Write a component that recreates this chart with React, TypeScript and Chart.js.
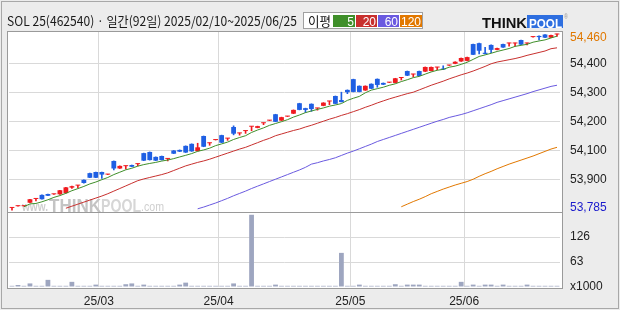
import React, { useEffect, useRef } from "react";
import { Chart, registerables } from "chart.js";
Chart.register(...registerables);

const TITLE = "SOL 25(462540) · 일간(92일) 2025/02/10~2025/06/25";
const LEGEND_TITLE = "이평";
const MA_PERIODS = ["5", "20", "60", "120"];
const MA_COLORS = ["#3f8f2a", "#c8302e", "#6a5ae0", "#e27800"];

const DATES = [
  "25/02/10","25/02/11","25/02/12","25/02/13","25/02/14","25/02/17","25/02/18","25/02/19","25/02/20","25/02/21",
  "25/02/24","25/02/25","25/02/26","25/02/27","25/02/28",
  "25/03/04","25/03/05","25/03/06","25/03/07","25/03/10","25/03/11","25/03/12","25/03/13","25/03/14","25/03/17",
  "25/03/18","25/03/19","25/03/20","25/03/21","25/03/24","25/03/25","25/03/26","25/03/27","25/03/28","25/03/31",
  "25/04/01","25/04/02","25/04/03","25/04/04","25/04/07","25/04/08","25/04/09","25/04/10","25/04/11","25/04/14",
  "25/04/15","25/04/16","25/04/17","25/04/18","25/04/21","25/04/22","25/04/23","25/04/24","25/04/25","25/04/28",
  "25/04/29","25/04/30",
  "25/05/02","25/05/07","25/05/08","25/05/09","25/05/12","25/05/13","25/05/14","25/05/15","25/05/16","25/05/19",
  "25/05/20","25/05/21","25/05/22","25/05/23","25/05/26","25/05/27","25/05/28","25/05/29","25/05/30",
  "25/06/02","25/06/04","25/06/05","25/06/09","25/06/10","25/06/11","25/06/12","25/06/13","25/06/16","25/06/17",
  "25/06/18","25/06/19","25/06/20","25/06/23","25/06/24","25/06/25"
];

const OPEN = [
  53901,53907,53907,53919,53932,53946,53949,53948,53948,53952,
  53971,53978,53998,54021,54025,54025,54016,54063,54037,54045,
  54049,54052,54090,54094,54077,54080,54070,54099,54101,54115,
  54122,54097,54149,54124,54135,54152,54140,54180,54158,54166,
  54181,54177,54193,54202,54224,54202,54216,54226,54262,54245,
  54260,54244,54253,54268,54287,54273,54308,54345,54322,54306,
  54329,54346,54332,54333,54332,54349,54373,54361,54373,54371,
  54373,54385,54381,54392,54398,54406,54408,54466,54469,54436,
  54463,54446,54466,54468,54468,54480,54468,54490,54494,54499,
  54488,54499
];
const HIGH = [
  53902,53908,53908,53931,53933,53946,53949,53949,53962,53972,
  53976,53979,53998,54021,54025,54025,54017,54063,54046,54046,
  54049,54053,54090,54094,54077,54080,54071,54099,54101,54115,
  54122,54124,54149,54125,54136,54152,54141,54184,54159,54167,
  54182,54183,54194,54203,54224,54214,54217,54239,54262,54245,
  54260,54245,54264,54269,54287,54300,54308,54345,54322,54322,
  54329,54346,54332,54334,54348,54350,54373,54362,54373,54387,
  54387,54386,54391,54393,54405,54418,54421,54466,54469,54455,
  54463,54452,54466,54469,54469,54480,54469,54491,54494,54499,
  54497,54500
];
const LOW = [
  53893,53907,53907,53919,53925,53931,53943,53948,53948,53952,
  53968,53970,53986,54005,54005,54003,54016,54032,54037,54035,
  54043,54046,54064,54066,54064,54066,54063,54088,54095,54092,
  54096,54097,54112,54117,54135,54126,54134,54153,54152,54158,
  54167,54177,54188,54202,54198,54202,54216,54226,54239,54230,
  54234,54238,54253,54257,54260,54266,54295,54301,54301,54306,
  54312,54317,54326,54333,54332,54342,54357,54353,54356,54371,
  54373,54377,54378,54392,54398,54406,54408,54429,54432,54432,
  54436,54446,54454,54459,54459,54464,54463,54490,54480,54488,
  54488,54492
];
const CLOSE = [
  53902,53908,53908,53931,53933,53931,53943,53949,53962,53972,
  53976,53979,53987,54005,54005,54016,54017,54037,54046,54046,
  54043,54053,54064,54066,54064,54066,54071,54088,54095,54092,
  54096,54110,54112,54125,54136,54126,54141,54157,54159,54167,
  54182,54183,54194,54203,54198,54214,54217,54239,54239,54239,
  54242,54245,54264,54269,54260,54266,54300,54301,54301,54322,
  54312,54325,54326,54334,54348,54350,54357,54362,54356,54387,
  54387,54386,54378,54393,54405,54418,54421,54429,54443,54432,
  54446,54452,54454,54469,54469,54464,54469,54491,54490,54488,
  54497,54500
];
const VOLUME = [
  3,5,3,9,3,3,18,3,3,3,
  13,3,3,3,6,3,3,3,3,7,
  9,3,6,3,3,3,3,3,6,11,
  3,3,3,3,3,3,3,9,3,3,
  182,3,3,3,6,3,3,3,3,3,
  3,3,3,3,3,86,3,3,6,3,
  3,3,3,3,7,3,6,6,6,3,
  3,3,3,3,3,13,3,6,3,6,
  6,3,6,3,3,3,6,3,3,3,
  3,3
];

const MA5_HEAD = [null, null, 53905, 53915];
const MA20 = [
  null,null,null,null,null,null,null,null,null,
  53900,53907,53914,53921,53928,53935,53942,53950,53959,53968,
  53977,53986,53995,54001,54006,54011,54016,54022,54030,54038,
  54046,54052,54058,54063,54069,54076,54083,54090,54097,54104,
  54110,54118,54126,54134,54141,54150,54156,54162,54168,54173,
  54180,54186,54193,54200,54207,54213,54220,54226,54233,54240,
  54248,54255,54263,54270,54277,54283,54289,54295,54300,54308,
  54316,54324,54331,54338,54346,54353,54360,54366,54373,54381,
  54389,54398,54404,54408,54412,54416,54421,54427,54432,54437,
  54442,54450,54453
];
const MA60 = [
  null,null,null,null,null,null,null,null,null,null,
  null,null,null,null,null,null,null,null,null,null,
  null,null,null,null,null,null,null,null,null,null,null,
  53898,53904,53911,53918,53926,53934,53943,53951,53959,53968,
  53976,53984,53992,54000,54008,54016,54024,54032,54041,54052,
  54057,54063,54068,54074,54082,54090,54097,54105,54113,54121,
  54130,54137,54144,54151,54158,54165,54172,54179,54186,54193,
  54200,54206,54213,54218,54223,54229,54236,54243,54250,54257,
  54265,54271,54277,54283,54289,54295,54302,54308,54314,54320,
  54324
];
const MA120 = [
  null,null,null,null,null,null,null,null,null,null,
  null,null,null,null,null,null,null,null,null,null,
  null,null,null,null,null,null,null,null,null,null,
  null,null,null,null,null,null,null,null,null,null,
  null,null,null,null,null,null,null,null,null,null,
  null,null,null,null,null,null,null,null,null,null,
  null,null,null,null,null,
  53905,53914,53923,53931,53940,53950,53958,53966,53973,53980,
  53986,53992,54000,54010,54019,54027,54036,54044,54052,54059,
  54066,54073,54080,54088,54096,54104,54110
];

const PRICE_MIN = 53887;
const PRICE_MAX = 54511;
const PRICE_TICK_VALUES = [54487, 54400, 54300, 54200, 54100, 54000, 53903];
const PRICE_TICK_LABELS = ["54,460", "54,400", "54,300", "54,200", "54,100", "53,900", "53,785"];
const VOLUME_MAX = 189;
const VOLUME_TICK_VALUES = [0, 63, 126];
const VOLUME_TICK_LABELS = ["x1000", "63", "126"];

const UP = "#f01a1f";
const DOWN = "#1f5fe3";
const GRID = "#d9d9d9";
const FONT = '"Liberation Sans", Arial, sans-serif';

const MA5 = CLOSE.map((_, i) =>
  i < 4 ? MA5_HEAD[i] : (CLOSE[i] + CLOSE[i - 1] + CLOSE[i - 2] + CLOSE[i - 3] + CLOSE[i - 4]) / 5
);
const MONTH_START = new Set(
  DATES.map((d, i) => (i > 0 && d.slice(0, 5) !== DATES[i - 1].slice(0, 5) ? i : -1)).filter((i) => i >= 0)
);
const CANDLE_COLORS = OPEN.map((o, i) => (CLOSE[i] >= o ? UP : DOWN));

function fitText(ctx: CanvasRenderingContext2D, text: string, x: number, y: number, width: number, font: string, color: string) {
  ctx.save();
  ctx.font = font;
  ctx.fillStyle = color;
  ctx.textAlign = "left";
  ctx.textBaseline = "alphabetic";
  const w = ctx.measureText(text).width;
  ctx.translate(x, y);
  ctx.scale(width / w, 1);
  ctx.fillText(text, 0, 0);
  ctx.restore();
}

const decor = {
  id: "decor",
  beforeDraw(chart: any) {
    const ctx = chart.ctx as CanvasRenderingContext2D;
    ctx.save();
    ctx.fillStyle = "#ececec";
    ctx.fillRect(0, 0, 620, 310);
    ctx.fillStyle = "#ffffff";
    ctx.fillRect(7, 31, 556, 257);
    ctx.restore();
  },
  beforeDatasetsDraw(chart: any) {
    const ctx = chart.ctx as CanvasRenderingContext2D;
    fitText(ctx, "www.", 22, 211, 26, `bold 13px ${FONT}`, "#cfcfcf");
    fitText(ctx, "THINK", 49, 212, 52, `bold 19px ${FONT}`, "#c4c4c4");
    fitText(ctx, "POOL", 101, 212, 40, `bold 19px ${FONT}`, "#d6d6d6");
    fitText(ctx, ".com", 141, 211, 23, `13px ${FONT}`, "#cfcfcf");
  },
  afterDraw(chart: any) {
    const ctx = chart.ctx as CanvasRenderingContext2D;
    const yScale = chart.scales.y;
    ctx.save();
    ctx.strokeStyle = "#9a9a9a";
    ctx.lineWidth = 1;
    ctx.strokeRect(7.5, 31.5, 555, 257);
    ctx.beginPath();
    ctx.moveTo(7, Math.round(yScale.bottom) + 0.5);
    ctx.lineTo(563, Math.round(yScale.bottom) + 0.5);
    ctx.stroke();
    ctx.strokeStyle = "#a8a8a8";
    ctx.strokeRect(1.5, 1.5, 617, 307);
    ctx.restore();

    fitText(ctx, TITLE, 7, 26, 290, '13px "Noto Sans CJK KR", sans-serif', "#1a1a1a");

    ctx.save();
    ctx.fillStyle = "#ffffff";
    ctx.fillRect(303, 12, 120, 17);
    ctx.strokeStyle = "#a0a0a0";
    ctx.strokeRect(303.5, 12.5, 119, 16);
    ctx.restore();
    fitText(ctx, LEGEND_TITLE, 308, 26, 23, '13px "Noto Sans CJK KR", sans-serif', "#111111");
    const boxes = [[333, 355], [356, 377], [378, 399], [400, 422]];
    boxes.forEach(([a, b], k) => {
      ctx.save();
      ctx.fillStyle = MA_COLORS[k];
      ctx.fillRect(a, 15, b - a, 12);
      ctx.fillStyle = "#ffffff";
      ctx.font = `12px ${FONT}`;
      ctx.textAlign = "right";
      ctx.textBaseline = "alphabetic";
      ctx.fillText(MA_PERIODS[k], b - 1, 25.5);
      ctx.restore();
    });

    fitText(ctx, "THINK", 482, 28, 45, `bold 14px ${FONT}`, "#111111");
    ctx.save();
    ctx.fillStyle = "#2e6fe0";
    ctx.fillRect(527, 15, 36, 13);
    ctx.restore();
    fitText(ctx, "POOL", 529, 27.5, 33, `bold 13px ${FONT}`, "#ffffff");
    fitText(ctx, "®", 564, 19, 4, `7px ${FONT}`, "#999999");
  },
};

export default function App() {
  const ref = useRef<HTMLCanvasElement | null>(null);
  useEffect(() => {
    if (!ref.current) return;
    const chart = new Chart(ref.current, {
      type: "bar",
      data: {
        labels: DATES,
        datasets: [
          { type: "line", label: "MA5", data: MA5 as any, borderColor: MA_COLORS[0], borderWidth: 1, pointRadius: 0, yAxisID: "y" },
          { type: "line", label: "MA20", data: MA20 as any, borderColor: MA_COLORS[1], borderWidth: 1, pointRadius: 0, yAxisID: "y" },
          { type: "line", label: "MA60", data: MA60 as any, borderColor: MA_COLORS[2], borderWidth: 1, pointRadius: 0, yAxisID: "y" },
          { type: "line", label: "MA120", data: MA120 as any, borderColor: MA_COLORS[3], borderWidth: 1, pointRadius: 0, yAxisID: "y" },
          {
            type: "bar", label: "body", data: OPEN.map((o, i) => [o, CLOSE[i]]) as any,
            backgroundColor: CANDLE_COLORS, barPercentage: 0.8, categoryPercentage: 1, grouped: false, minBarLength: 1, yAxisID: "y",
          },
          {
            type: "bar", label: "wick", data: LOW.map((l, i) => [l, HIGH[i]]) as any,
            backgroundColor: CANDLE_COLORS, barThickness: 1, grouped: false, yAxisID: "y",
          },
          {
            type: "bar", label: "volume", data: VOLUME,
            backgroundColor: "#9ea6c0", barPercentage: 0.8, categoryPercentage: 1, grouped: false, minBarLength: 1, yAxisID: "yv",
          },
        ],
      },
      options: {
        animation: false,
        responsive: false,
        devicePixelRatio: 1,
        layout: { padding: { left: 9, top: 31, right: 0, bottom: 0 } },
        plugins: { legend: { display: false }, tooltip: { enabled: false } },
        scales: {
          x: {
            type: "category",
            offset: true,
            afterFit: (s: any) => { s.height = 23; },
            border: { display: false },
            grid: {
              offset: true,
              drawTicks: false,
              color: (c: any) => (MONTH_START.has(c.index) ? GRID : "rgba(0,0,0,0)"),
            },
            ticks: {
              autoSkip: false,
              maxRotation: 0,
              minRotation: 0,
              padding: 7,
              labelOffset: -3,
              color: "#222222",
              font: { family: FONT, size: 12 },
              callback: (_v: any, i: number) => (MONTH_START.has(i) ? DATES[i].slice(0, 5) : ""),
            },
          },
          y: {
            type: "linear",
            position: "right",
            stack: "main",
            stackWeight: 181,
            min: PRICE_MIN,
            max: PRICE_MAX,
            afterBuildTicks: (s: any) => { s.ticks = PRICE_TICK_VALUES.map((v) => ({ value: v })); },
            afterFit: (s: any) => { s.width = 60; },
            border: { display: false },
            grid: {
              drawTicks: false,
              color: (c: any) => (c.index > 0 && c.index < PRICE_TICK_VALUES.length - 1 ? GRID : "rgba(0,0,0,0)"),
            },
            ticks: {
              autoSkip: false,
              padding: 10,
              font: { family: FONT, size: 12 },
              color: (c: any) => (c.index === 0 ? "#e07800" : c.index === PRICE_TICK_VALUES.length - 1 ? "#1a1acc" : "#222222"),
              callback: (_v: any, i: number) => PRICE_TICK_LABELS[i],
            },
          },
          yv: {
            type: "linear",
            position: "right",
            stack: "main",
            stackWeight: 75,
            min: 0,
            max: VOLUME_MAX,
            afterBuildTicks: (s: any) => { s.ticks = VOLUME_TICK_VALUES.map((v) => ({ value: v })); },
            afterFit: (s: any) => { s.width = 60; },
            border: { display: false },
            grid: {
              drawTicks: false,
              color: (c: any) => (c.index > 0 ? GRID : "rgba(0,0,0,0)"),
            },
            ticks: {
              autoSkip: false,
              padding: 10,
              font: { family: FONT, size: 12 },
              color: "#222222",
              callback: (_v: any, i: number) => VOLUME_TICK_LABELS[i],
            },
          },
        },
      },
      plugins: [decor],
    });
    return () => chart.destroy();
  }, []);
  return (
    <div style={{ position: "absolute", left: 0, top: 0, width: 620, height: 310 }}>
      <canvas ref={ref} width={620} height={310} style={{ display: "block", width: 620, height: 310 }} />
    </div>
  );
}
